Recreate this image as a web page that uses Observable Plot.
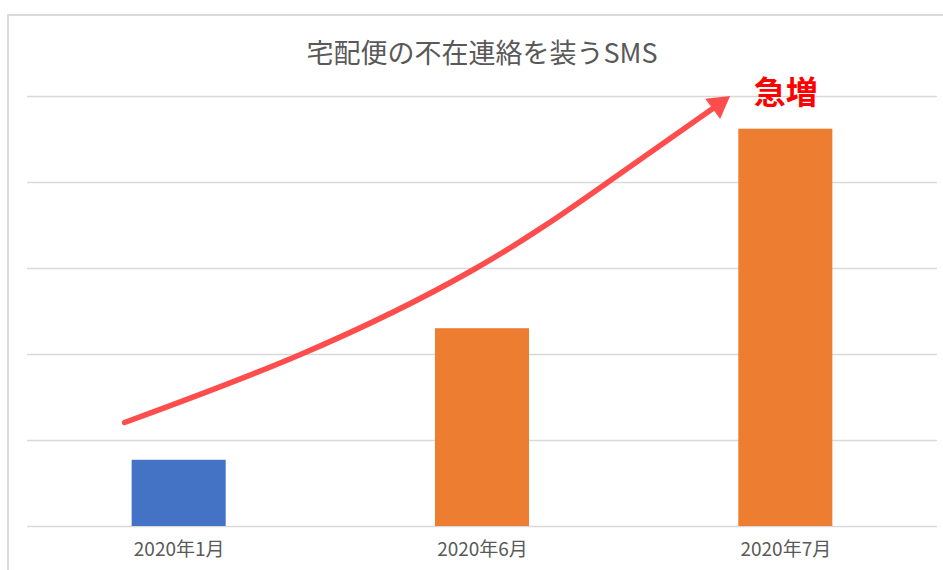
<!DOCTYPE html>
<html>
<head>
<meta charset="utf-8">
<script src="https://cdn.jsdelivr.net/npm/d3@7"></script>
<script src="https://cdn.jsdelivr.net/npm/@observablehq/plot@0.6"></script>
<style>
  html, body { margin: 0; padding: 0; background: #fff; }
  #wrap { position: relative; width: 943px; height: 570px; overflow: hidden; background: #fff;
          font-family: "Noto Sans CJK JP", "Noto Sans", sans-serif; }
  #frame { position: absolute; left: 7px; top: 14px; width: 2000px; height: 2000px;
           border-left: 2px solid #d9d9d9; border-top: 2px solid #d9d9d9; }
  #title { position: absolute; left: 0; width: 964px; top: 33px; text-align: center;
           font-size: 27px; color: #595959; line-height: 38px; font-weight: 400; }
  #chart { position: absolute; left: 0; top: 0; }
</style>
</head>
<body>
<div id="wrap">
  <div id="frame"></div>
  <div id="chart"></div>
  <div id="title">宅配便の不在連絡を装うSMS</div>
</div>
<script>
// categories and values (arbitrary units; gridlines every 1000)
const months = ["2020年1月", "2020年6月", "2020年7月"];
const counts = [770, 2300, 4620];
const barColors = ["#4472C4", "#ED7D31", "#ED7D31"];
const gridTicks = [0, 1000, 2000, 3000, 4000, 5000];

// annotation arrow path (category index, value)
const arrowX = [-0.18, 0.40, 0.977, 1.412, 1.778];
const arrowY = [1209, 2000, 3000, 4000, 4906];
const headX = [1.778];
const headY = [4906];
const noteText = ["急増"];
const noteX = [2.0];
const noteY = [5030];

const bars = months.map((m, i) => ({i, month: m, value: counts[i], color: barColors[i]}));
const arrow = arrowX.map((x, i) => ({x, y: arrowY[i]}));
const head = headX.map((x, i) => ({x, y: headY[i]}));
const notes = noteText.map((t, i) => ({t, x: noteX[i], y: noteY[i]}));

const halfBar = 0.155;

const chart = Plot.plot({
  width: 943,
  height: 570,
  marginLeft: 27,
  marginRight: 6,
  marginTop: 96,
  marginBottom: 44,
  style: {background: "transparent", fontFamily: "'Noto Sans CJK JP', sans-serif", overflow: "visible"},
  x: {type: "linear", domain: [-0.5, 2.5], axis: null},
  y: {domain: [0, 5000], axis: null},
  color: {type: "identity"},
  marks: [
    Plot.ruleY(gridTicks, {stroke: "#d9d9d9", strokeWidth: 1.5}),
    Plot.rect(bars, {x1: d => d.i - halfBar, x2: d => d.i + halfBar, y1: 0, y2: "value", fill: "color"}),
    Plot.axisX({ticks: [0, 1, 2], tickFormat: i => months[i], tickSize: 0, tickPadding: 16,
                fontSize: 19, color: "#595959", fill: "#595959", label: null}),
    Plot.line(arrow, {x: "x", y: "y", curve: "natural", stroke: "#ff4d4d", strokeWidth: 5.5}),
    Plot.dot(head, {x: "x", y: "y", symbol: "triangle", r: 9.3, fill: "#ff4d4d", stroke: "none", rotate: 53.5}),
    Plot.text(notes, {x: "x", y: "y", text: "t", fill: "#ff0000", fontSize: 32, fontWeight: "bold",
                      textAnchor: "middle", lineAnchor: "middle"})
  ]
});
document.getElementById("chart").appendChild(chart);
</script>
</body>
</html>
